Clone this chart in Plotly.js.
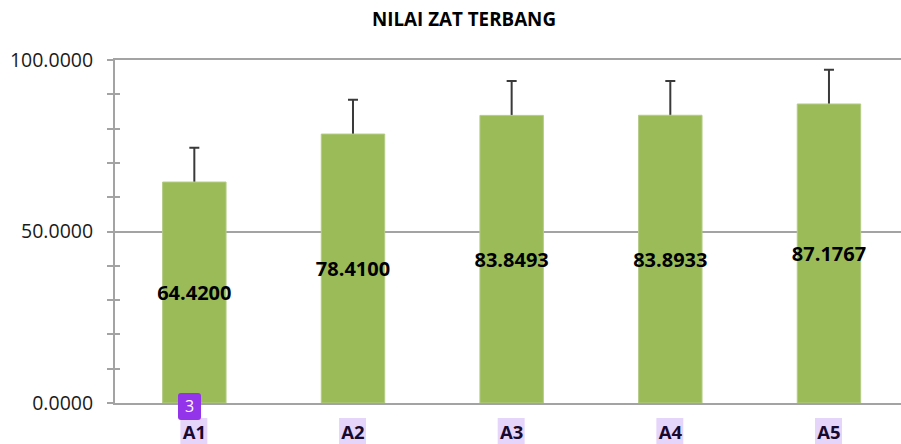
<!DOCTYPE html>
<html>
<head>
<meta charset="utf-8">
<script src="https://cdn.plot.ly/plotly-3.0.1.min.js"></script>
<style>html,body{margin:0;padding:0;background:#fff}#c{width:901px;height:444px}</style>
</head>
<body>
<div id="c"></div>
<script>
var categories = ["A1", "A2", "A3", "A4", "A5"];
var values = [64.42, 78.41, 83.8493, 83.8933, 87.1767];
var errors = [10, 10, 10, 10, 10];
var labels = ["64.4200", "78.4100", "83.8493", "83.8933", "87.1767"];
var badgeText = "3";

var W = 901, H = 444;
var mL = 115, mR = 0, mT = 60, mB = 41;
var plotH = H - mT - mB;
var font = "'Open Sans', 'Noto Sans', sans-serif";
var axisColor = "#a3a3a3";

function py(p) { return (H - mB - p) / plotH; }   // page pixel row to paper y
function px(p) { return (p - mL) / (W - mL - mR); } // page pixel column to paper x

// lilac highlight behind each category label
var shapes = categories.map(function (c, i) {
  return {
    type: "rect", xref: "x", yref: "paper", layer: "below",
    x0: i - 0.088, x1: i + 0.082, y0: py(444), y1: py(418),
    fillcolor: "#e6d5fa", line: { width: 0 }
  };
});

// rounded purple badge
var bx0 = px(178), bx1 = px(201), by0 = py(420), by1 = py(393);
var rx = px(181) - px(178), ry = py(393) - py(396);
shapes.push({
  type: "path", xref: "paper", yref: "paper", layer: "above",
  fillcolor: "#9333ea", line: { width: 0 },
  path: "M " + (bx0 + rx) + " " + by1 + " L " + (bx1 - rx) + " " + by1 +
    " Q " + bx1 + " " + by1 + " " + bx1 + " " + (by1 - ry) +
    " L " + bx1 + " " + (by0 + ry) + " Q " + bx1 + " " + by0 + " " + (bx1 - rx) + " " + by0 +
    " L " + (bx0 + rx) + " " + by0 + " Q " + bx0 + " " + by0 + " " + bx0 + " " + (by0 + ry) +
    " L " + bx0 + " " + (by1 - ry) + " Q " + bx0 + " " + by1 + " " + (bx0 + rx) + " " + by1 + " Z"
});

var traces = [
  // transparent bars on the base axis carry the error bars; the visible bars above hide their lower half
  {
    type: "bar", x: categories, y: values,
    marker: { color: "rgba(0,0,0,0)" },
    error_y: { type: "data", array: errors, visible: true, color: "#3a3a3a", thickness: 2, width: 5 },
    hoverinfo: "skip", showlegend: false
  },
  {
    type: "bar", x: categories, y: values, yaxis: "y2", text: labels,
    textposition: "inside", insidetextanchor: "middle", constraintext: "none", textangle: 0,
    insidetextfont: { family: font, size: 20, color: "#000", weight: 700 },
    marker: { color: "#9bbb59", line: { color: "#b4cc86", width: 1 } },
    hoverinfo: "x+y", cliponaxis: false
  }
];

var layout = {
  width: W, height: H,
  margin: { l: mL, r: mR, t: mT, b: mB, pad: 0 },
  paper_bgcolor: "#fff", plot_bgcolor: "#fff",
  showlegend: false,
  bargap: 0.6,
  title: {
    text: "<b>NILAI ZAT TERBANG</b>",
    x: 464 / W, xanchor: "center", xref: "container",
    y: 1 - 19 / H, yanchor: "middle", yref: "container",
    font: { family: font, size: 18.8, color: "#000" }
  },
  xaxis: {
    type: "category", categoryorder: "array", categoryarray: categories,
    range: [-0.5, 4.454],
    showline: true, mirror: true, linecolor: axisColor, linewidth: 2,
    ticks: "", showgrid: false, zeroline: false,
    tickfont: { family: font, size: 18.5, color: "#170a2e", weight: 700 },
    ticklabelstandoff: 12
  },
  yaxis: {
    range: [0, 100], dtick: 50, tick0: 0, tickformat: ".4f",
    showline: true, linecolor: axisColor, linewidth: 2,
    showgrid: true, gridcolor: axisColor, gridwidth: 2,
    zeroline: false,
    ticks: "outside", ticklen: 6, tickwidth: 1.5, tickcolor: axisColor,
    minor: { dtick: 10, ticks: "outside", ticklen: 6, tickwidth: 1.5, tickcolor: axisColor, showgrid: false },
    tickfont: { family: font, size: 19.5, color: "#1a1a1a" },
    ticklabelstandoff: 10
  },
  yaxis2: {
    overlaying: "y", side: "left", range: [0, 100], dtick: 10, tick0: 0,
    showticklabels: false, showgrid: false, zeroline: false, showline: false,
    ticks: "inside", ticklen: 5, tickwidth: 1.5, tickcolor: axisColor
  },
  shapes: shapes,
  annotations: [{
    xref: "paper", yref: "paper", x: px(189.5), y: py(406), xanchor: "center", yanchor: "middle",
    text: badgeText, showarrow: false, font: { family: font, size: 16, color: "#fff" }
  }]
};

Plotly.newPlot("c", traces, layout, { displayModeBar: false, responsive: false });
</script>
</body>
</html>
